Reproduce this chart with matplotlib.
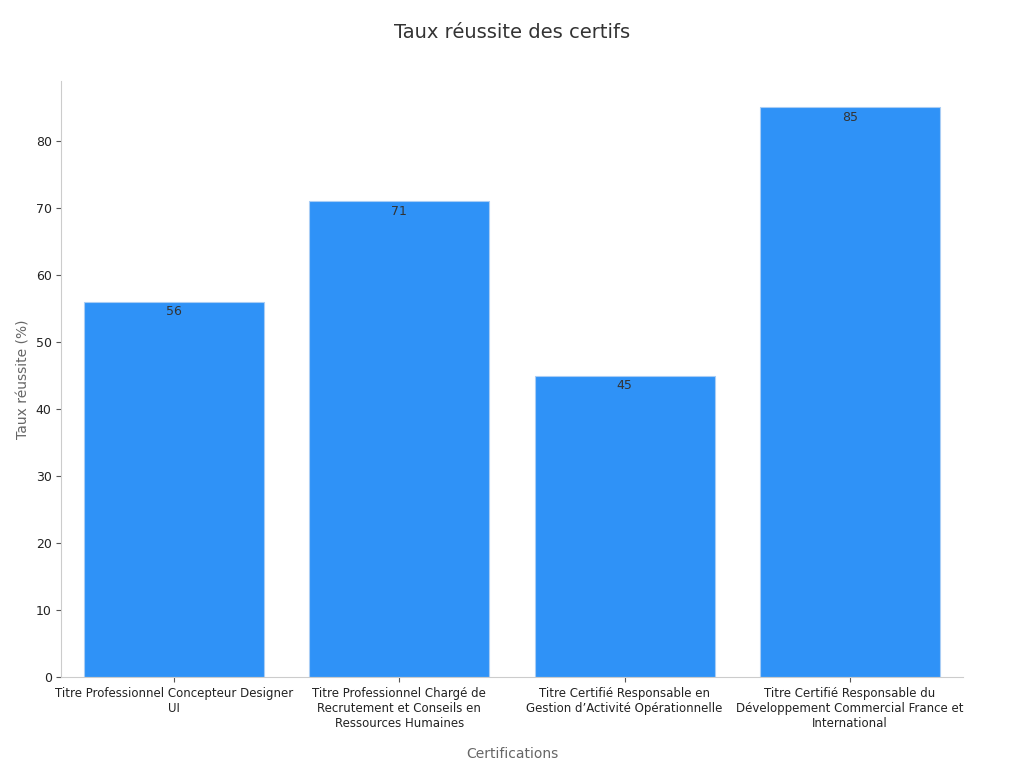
import matplotlib
matplotlib.use("Agg")
import matplotlib.pyplot as plt

categories = ["Titre Professionnel Concepteur Designer\nUI",
              "Titre Professionnel Chargé de\nRecrutement et Conseils en\nRessources Humaines",
              "Titre Certifié Responsable en\nGestion d’Activité Opérationnelle",
              "Titre Certifié Responsable du\nDéveloppement Commercial France et\nInternational"]
values = [56, 71, 45, 85]

fig, ax = plt.subplots(figsize=(10.24, 7.68), dpi=100)
fig.subplots_adjust(left=0.06, right=0.94, top=0.895, bottom=0.118)
bars = ax.bar(range(len(values)), values, width=0.8, color="#2f92f7", edgecolor="#a9cdf5", linewidth=0.8)
for i, v in enumerate(values):
    ax.text(i, v - 0.5, str(v), ha="center", va="top", fontsize=9, color="#333333")
ax.set_xticks(range(len(values)))
ax.set_xticklabels(categories, fontsize=8.5, color="#222222")
ax.set_xlim(-0.5, 3.5)
ax.set_ylim(0, 89)
ax.set_yticks(range(0, 90, 10))
ax.tick_params(axis="y", labelsize=9, colors="#222222")
ax.tick_params(axis="both", color="#555555")
for s in ["top", "right"]:
    ax.spines[s].set_visible(False)
for s in ["left", "bottom"]:
    ax.spines[s].set_color("#cccccc")
ax.set_xlabel("Certifications", fontsize=10, color="#666666", labelpad=12)
ax.set_ylabel("Taux réussite (%)", fontsize=10, color="#666666")
fig.suptitle("Taux réussite des certifs", fontsize=14, color="#333333", y=0.97)
fig.savefig("out.png")
